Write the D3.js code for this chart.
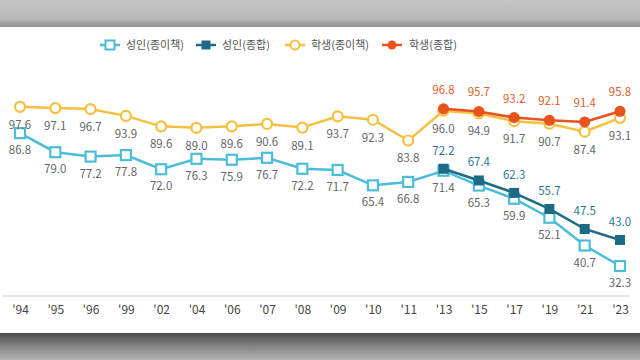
<!DOCTYPE html>
<html><head><meta charset="utf-8">
<script src="https://cdn.jsdelivr.net/npm/d3@7"></script>
<style>body{margin:0;background:#fff}svg{display:block}text{font-family:"Noto Sans CJK KR","Noto Sans",sans-serif}</style>
</head><body><svg id="c" width="640" height="360"></svg>
<script>
const years = ["'94","'95","'96","'99","'02","'04","'06","'07","'08","'09","'10","'11","'13","'15","'17","'19","'21","'23"];
const adultPaper = [86.8,79.0,77.2,77.8,72.0,76.3,75.9,76.7,72.2,71.7,65.4,66.8,71.4,65.3,59.9,52.1,40.7,32.3];
const adultTotalYears = ["'13","'15","'17","'19","'21","'23"];
const adultTotal = [72.2,67.4,62.3,55.7,47.5,43.0];
const studentPaper = [97.6,97.1,96.7,93.9,89.6,89.0,89.6,90.6,89.1,93.7,92.3,83.8,96.0,94.9,91.7,90.7,87.4,93.1];
const studentTotal = [96.8,95.7,93.2,92.1,91.4,95.8];
const seriesNames = ["성인(종이책)","성인(종합)","학생(종이책)","학생(종합)"];

const svg = d3.select("#c");
const defs = svg.append("defs");
const gt = defs.append("linearGradient").attr("id","gt").attr("x1",0).attr("x2",0).attr("y1",0).attr("y2",1);
gt.append("stop").attr("offset","0%").attr("stop-color","#c4c4c4");
gt.append("stop").attr("offset","70%").attr("stop-color","#b8b8b8");
gt.append("stop").attr("offset","100%").attr("stop-color","#8f8f8f");
const gb = defs.append("linearGradient").attr("id","gb").attr("x1",0).attr("x2",0).attr("y1",0).attr("y2",1);
gb.append("stop").attr("offset","0%").attr("stop-color","#4a4a4a");
gb.append("stop").attr("offset","40%").attr("stop-color","#7a7a7a");
gb.append("stop").attr("offset","100%").attr("stop-color","#b4b4b4");
svg.append("rect").attr("x",0).attr("y",0).attr("width",640).attr("height",27).attr("fill","url(#gt)");
svg.append("rect").attr("x",0).attr("y",333).attr("width",640).attr("height",27).attr("fill","url(#gb)");

const x = d3.scalePoint().domain(years).range([20,620]);
const y = d3.scaleLinear().domain([20,100]).range([296,101]);

// axis
const ax = svg.append("g").attr("transform","translate(0,296)")
  .call(d3.axisBottom(x).tickSize(0).tickPadding(9));
ax.select(".domain").attr("stroke","#dcdcdc").attr("stroke-width",1.5).attr("d","M2,0H630");
ax.selectAll("text").attr("font-family","Liberation Sans, Arial, sans-serif").attr("font-size",12).attr("fill","#444");

const C = {ap:"#4cbdd8", at:"#1c6a85", sp:"#f5c040", st:"#e8521d"};
const line = d3.line().x(d=>x(d[0])).y(d=>y(d[1]));

function drawSeries(xs, vals, color, shape, filled, labelColor, labelDy){
  const pts = xs.map((k,i)=>[k,vals[i]]);
  svg.append("path").datum(pts).attr("d",line).attr("fill","none").attr("stroke",color).attr("stroke-width",2.5);
  const g = svg.append("g");
  pts.forEach(p=>{
    const cx = x(p[0]), cy = y(p[1]);
    if(shape==="square"){
      g.append("rect").attr("x",cx-5).attr("y",cy-5).attr("width",10).attr("height",10)
        .attr("fill",filled?color:"#fff").attr("stroke",color).attr("stroke-width",filled?0:2.2);
    } else {
      g.append("circle").attr("cx",cx).attr("cy",cy).attr("r",filled?5.5:5)
        .attr("fill",filled?color:"#fff").attr("stroke",color).attr("stroke-width",filled?0:2.2);
    }
  });
  return pts;
}
function drawLabels(pts, color, dy){
  svg.append("g").selectAll("text").data(pts).join("text")
    .attr("x",d=>x(d[0])).attr("y",d=>y(d[1])+dy)
    .attr("text-anchor","middle").attr("font-size",11.5)
    .attr("font-family","Liberation Sans, Arial, sans-serif")
    .attr("fill",color).text(d=>d[1].toFixed(1));
}

const sp = drawSeries(years, studentPaper, C.sp, "circle", false);
const ap = drawSeries(years, adultPaper, C.ap, "square", false);
const at = drawSeries(adultTotalYears, adultTotal, C.at, "square", true);
const st = drawSeries(adultTotalYears, studentTotal, C.st, "circle", true);
drawLabels(sp, "#666", 22);
drawLabels(ap, "#666", 21);
drawLabels(at, "#2c7a92", -14);
drawLabels(st, "#e0602e", -15);

// legend
const leg = [
  {x:100, lab:126, c:C.ap, shape:"square", filled:false},
  {x:196, lab:222, c:C.at, shape:"square", filled:true},
  {x:285, lab:311, c:C.sp, shape:"circle", filled:false},
  {x:382, lab:409, c:C.st, shape:"circle", filled:true}
];
leg.forEach((L,i)=>{
  const g = svg.append("g");
  g.append("line").attr("x1",L.x).attr("x2",L.x+20).attr("y1",45).attr("y2",45).attr("stroke",L.c).attr("stroke-width",2.5);
  const cx=L.x+10;
  if(L.shape==="square") g.append("rect").attr("x",cx-4.5).attr("y",40.5).attr("width",9).attr("height",9)
    .attr("fill",L.filled?L.c:"#fff").attr("stroke",L.c).attr("stroke-width",L.filled?0:2);
  else g.append("circle").attr("cx",cx).attr("cy",45).attr("r",L.filled?4.5:4.5)
    .attr("fill",L.filled?L.c:"#fff").attr("stroke",L.c).attr("stroke-width",L.filled?0:2);
  g.append("text").attr("x",L.lab).attr("y",49).attr("font-size",11).attr("fill","#555").text(seriesNames[i]);
});
</script></body></html>
